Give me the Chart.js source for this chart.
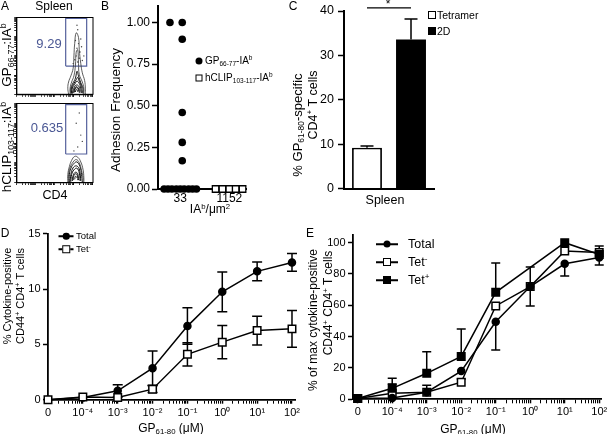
<!DOCTYPE html>
<html><head><meta charset="utf-8">
<script src="https://cdn.jsdelivr.net/npm/chart.js@4"></script>
<style>
html,body{margin:0;padding:0;background:#fff;}
#wrap{position:relative;width:608px;height:434px;overflow:hidden;font-family:"Liberation Sans",Arial,sans-serif;color:#000;}
canvas{position:absolute;left:0;top:0;}
.t{position:absolute;white-space:nowrap;line-height:1;transform:translate(-50%,-50%);}
.l{position:absolute;white-space:nowrap;line-height:1;transform:translate(0,-50%);}
.rot{transform:translate(-50%,-50%) rotate(-90deg);}
sub{font-size:65%;vertical-align:-0.3em;line-height:0;}
sup{font-size:65%;vertical-align:0.55em;line-height:0;}
.mk{position:absolute;transform:translate(-50%,-50%);box-sizing:border-box;}
</style></head>
<body><div id="wrap">
<canvas id="cA1" width="608" height="434"></canvas>
<canvas id="cA2" width="608" height="434"></canvas>
<canvas id="cB" width="608" height="434"></canvas>
<canvas id="cC" width="608" height="434"></canvas>
<canvas id="cD" width="608" height="434"></canvas>
<canvas id="cE" width="608" height="434"></canvas>

<div class="t" style="left:5px;top:6px;font-size:12px">A</div>
<div class="t" style="left:54px;top:6px;font-size:12px">Spleen</div>
<div class="t rot" style="left:7px;top:55px;font-size:13.5px">GP<sub>66-77</sub>:IA<sup>b</sup></div>
<div class="t rot" style="left:7px;top:147px;font-size:13.5px">hCLIP<sub>103-117</sub>:IA<sup>b</sup></div>
<div class="t" style="left:49px;top:43px;font-size:13px;color:#4a5794">9.29</div>
<div class="t" style="left:47px;top:127px;font-size:13px;color:#4a5794">0.635</div>
<div class="t" style="left:55px;top:195px;font-size:12.5px">CD4</div>

<div class="t" style="left:105px;top:6px;font-size:12px">B</div>
<div class="t rot" style="left:116px;top:110px;font-size:13.5px">Adhesion Frequency</div>
<div class="t" style="left:210px;top:209px;font-size:12px">IA<sup>b</sup>/μm<sup>2</sup></div>
<div class="mk" style="left:199px;top:61px;width:7px;height:7px;border-radius:50%;background:#000"></div>
<div class="l" style="left:205px;top:61px;font-size:10px">GP<sub>66-77</sub>-IA<sup>b</sup></div>
<div class="mk" style="left:199px;top:78px;width:7px;height:7px;border:1.3px solid #000;background:#fff"></div>
<div class="l" style="left:205px;top:78px;font-size:10px">hCLIP<sub>103-117</sub>-IA<sup>b</sup></div>

<div class="t" style="left:293px;top:6px;font-size:12px">C</div>
<div class="t rot" style="left:297px;top:125px;font-size:13px">% GP<sub>61-80</sub>-specific</div>
<div class="t rot" style="left:313px;top:105px;font-size:12.5px">CD4<sup>+</sup> T cells</div>
<div class="t" style="left:388px;top:4px;font-size:12px">*</div>
<div class="mk" style="left:432px;top:15px;width:8px;height:8px;border:1.3px solid #000;background:#fff"></div>
<div class="l" style="left:437px;top:15px;font-size:10.5px">Tetramer</div>
<div class="mk" style="left:432px;top:31px;width:8px;height:8px;background:#000"></div>
<div class="l" style="left:437px;top:31px;font-size:10.5px">2D</div>

<div class="t" style="left:5px;top:233px;font-size:12px">D</div>
<div class="t rot" style="left:7px;top:296px;font-size:11px">% Cytokine-positive</div>
<div class="t rot" style="left:20px;top:296px;font-size:11px">CD44<sup>+</sup> CD4<sup>+</sup> T cells</div>
<div class="t" style="left:171px;top:428px;font-size:12px">GP<sub>61-80</sub> (μM)</div>
<div class="mk" style="left:66px;top:236px;width:15px;height:1.5px;background:#000"></div>
<div class="mk" style="left:66px;top:236px;width:6.5px;height:6.5px;border-radius:50%;background:#000"></div>
<div class="l" style="left:76px;top:236px;font-size:9.5px">Total</div>
<div class="mk" style="left:66px;top:249px;width:15px;height:1.5px;background:#000"></div>
<div class="mk" style="left:66px;top:249px;width:7.5px;height:7.5px;border:1.3px solid #000;background:#fff"></div>
<div class="l" style="left:76px;top:249px;font-size:9.5px">Tet<sup>-</sup></div>

<div class="t" style="left:310px;top:233px;font-size:12px">E</div>
<div class="t rot" style="left:313px;top:320px;font-size:12px">% of max cytokine-positive</div>
<div class="t rot" style="left:328px;top:303px;font-size:12px">CD44<sup>+</sup> CD4<sup>+</sup> T cells</div>
<div class="t" style="left:473px;top:429px;font-size:12px">GP<sub>61-80</sub> (μM)</div>
<div class="mk" style="left:387px;top:244px;width:22px;height:1.5px;background:#000"></div>
<div class="mk" style="left:387px;top:244px;width:7px;height:7px;border-radius:50%;background:#000"></div>
<div class="l" style="left:408px;top:244px;font-size:12.5px">Total</div>
<div class="mk" style="left:387px;top:262px;width:22px;height:1.5px;background:#000"></div>
<div class="mk" style="left:387px;top:262px;width:8px;height:8px;border:1.3px solid #000;background:#fff"></div>
<div class="l" style="left:408px;top:262px;font-size:12.5px">Tet<sup>-</sup></div>
<div class="mk" style="left:387px;top:280px;width:22px;height:1.5px;background:#000"></div>
<div class="mk" style="left:387px;top:280px;width:8px;height:8px;background:#000"></div>
<div class="l" style="left:408px;top:280px;font-size:12.5px">Tet<sup>+</sup></div>
</div>
<script>
// ---------- DATA ----------
// Panel A (flow cytometry, axis units 0-100)
const gateX = [64.2, 91.7, 91.7, 64.2, 64.2];
const gateTopY = [36.8, 36.8, 98.7, 98.7, 36.8];
const gateBotY = [36.1, 36.1, 98.7, 98.7, 36.1];
const contoursTop = [
  [[68,0],[67,8],[68,16],[71,24],[74,34],[75,50],[76,66],[78,80],[81,74],[82,58],[84,40],[86,28],[89,18],[90,8],[90,0]],
  [[70,0],[70,8],[72,16],[75,24],[77,38],[78,55],[80,58],[81,40],[82,26],[86,16],[88,8],[88,0]],
  [[71,1],[71,8],[74,15],[77,21],[79,30],[81,24],[84,15],[87,8],[87,1]],
  [[72,1],[72,8],[75,14],[78,19],[80,22],[82,17],[85,10],[86,2]],
  [[73,1],[73,8],[76,13],[79,17],[82,14],[84,8],[85,2]],
  [[74,2],[75,8],[78,12],[81,11],[83,6],[83,2]],
  [[75,2],[76,7],[78,10],[80,9],[82,5],[82,2]],
  [[76,3],[77,8],[80,8],[81,4]],
  [[77,3],[78,6],[80,5],[80,3]]
];
const eventsTop = [[80,42],[78,50],[82,47],[79,60],[83,55],[77,70],[81,66],[84,72],[80,84],[85,62],[76,45],[88,50],[79,90],[74,40],[86,44]];
const contoursBot = [
  [[67,0],[67,10],[69,20],[72,28],[76,33],[80,32],[84,26],[87,16],[88,6],[88,0]],
  [[68,0],[68,10],[70,19],[74,26],[78,29],[82,25],[85,15],[87,6],[87,0]],
  [[69,0],[69,10],[71,18],[75,24],[79,26],[83,20],[85,10],[86,0]],
  [[70,1],[71,10],[73,17],[77,21],[81,19],[83,12],[84,2]],
  [[71,1],[72,10],[75,16],[79,18],[82,12],[83,2]],
  [[73,2],[74,9],[77,13],[80,11],[81,3]],
  [[74,3],[75,9],[78,11],[80,7],[80,3]],
  [[76,4],[77,8],[79,6]]
];
const eventsBot = [[80,45],[84,60],[78,75],[86,52],[75,40],[82,88]];

// Panel B
const bTickVals = [0, 0.25, 0.5, 0.75, 1.0];
const bCatLabels = ['33', '1152'];
const bGpX = [0.79, 1.04, 1.04, 1.04, 1.04, 1.04, 0.67, 0.75, 0.83, 0.92, 1.0, 1.08, 1.17, 1.25, 1.33];
const bGpY = [1.00, 1.00, 0.90, 0.46, 0.28, 0.17, 0, 0, 0, 0, 0, 0, 0, 0, 0];
const bClipX = [1.72, 1.86, 2.0, 2.13, 2.27];
const bClipY = [0, 0, 0, 0, 0];

// Panel C
const cCats = ['Spleen'];
const cTetramer = [9.2];
const cTetramerErr = [0.4];
const c2D = [33.6];
const c2DErr = [4.6];
const cSigLevel = 40.7;

// Panels D & E
const doses = [0, 1e-4, 1e-3, 1e-2, 1e-1, 1, 10, 100];
const doseLabels = ['0', '10⁻⁴', '10⁻³', '10⁻²', '10⁻¹', '10⁰', '10¹', '10²'];
const zeroDose = 1e-5;
const dTotal = [0, 0.2, 0.8, 2.85, 6.65, 9.75, 11.6, 12.4];
const dTotalErr = [0, 0, 0.55, 1.55, 1.65, 1.8, 0.85, 0.8];
const dTetNeg = [0, 0.25, 0.2, 0.95, 4.1, 5.2, 6.25, 6.4];
const dTetNegErr = [0, 0, 0, 0.3, 1.05, 1.5, 1.3, 1.65];
const eTotal = [0.5, 0.8, 4.5, 18, 49.5, 72, 86.5, 90.5];
const eTotalErrDown = [0, 0, 0, 0, 18, 0, 7.8, 4.8];
const eTetNeg = [0.5, 3.8, 4.5, 10.9, 59.6, 72, 94.7, 93.8];
const eTetNegErrUp = [0, 6, 4.5, 2, 0, 12.5, 0, 4.1];
const eTetNegErrDown = [0, 0, 0, 0, 0, 12.5, 0, 0];
const eTetPos = [0.5, 7, 16.6, 27.4, 68.3, null, 100, 92.5];
const eTetPosErrUp = [0, 6.4, 13.8, 17.5, 18.7, 0, 0, 0];
const eYTicks = [0, 20, 40, 60, 80, 100];

// ---------- HELPERS ----------
Chart.defaults.font.family = "'Liberation Sans', Arial, sans-serif";
Chart.defaults.color = '#000';
const W = 608, H = 434;
function layoutFor(l, t, r, yw) { return {padding: {left: l - yw, top: t, right: W - r, bottom: 0}}; }
function yFit(w) { return s => { s.width = w; s.paddingTop = 0; s.paddingBottom = 0; s.paddingLeft = 0; s.paddingRight = 0; }; }
function xFit(b) { return s => { s.height = H - b; s.paddingLeft = 0; s.paddingRight = 0; s.paddingTop = 0; s.paddingBottom = 0; }; }
const noPlug = {legend: {display: false}, tooltip: {enabled: false}};

const errPlugin = {
  id: 'err',
  beforeDatasetsDraw(chart) { drawErr(chart, false); },
  afterDatasetsDraw(chart) { drawErr(chart, true); }
};
function drawErr(chart, after) {
  const ctx = chart.ctx;
  chart.data.datasets.forEach((ds, di) => {
    if (!ds.errUp && !ds.errDown) return;
    if (!!ds.errAfter !== after) return;
    const meta = chart.getDatasetMeta(di);
    const ys = chart.scales[meta.yAxisID];
    ctx.save();
    ctx.strokeStyle = '#000';
    ctx.lineWidth = ds.errLineWidth || 1.5;
    meta.data.forEach((el, i) => {
      const raw = ds.data[i];
      const v = (raw && typeof raw === 'object') ? raw.y : raw;
      if (v === null || v === undefined) return;
      const x = el.x, y0 = ys.getPixelForValue(v);
      const cw = ds.capW || 5;
      [[ds.errUp, 1], [ds.errDown, -1]].forEach(([arr, s]) => {
        if (!arr || !arr[i]) return;
        const y1 = ys.getPixelForValue(v + s * arr[i]);
        ctx.beginPath();
        ctx.moveTo(x, y0); ctx.lineTo(x, y1);
        ctx.moveTo(x - cw, y1); ctx.lineTo(x + cw, y1);
        ctx.stroke();
      });
    });
    ctx.restore();
  });
}
const framePlugin = {
  id: 'frame',
  afterDraw(chart, args, opts) {
    if (!opts || !opts.enabled) return;
    const a = chart.chartArea, ctx = chart.ctx;
    ctx.save(); ctx.strokeStyle = '#000'; ctx.lineWidth = 1;
    ctx.strokeRect(a.left, a.top, a.right - a.left, a.bottom - a.top);
    ctx.restore();
  }
};
const sigPlugin = {
  id: 'sig',
  afterDraw(chart, args, opts) {
    if (!opts || !opts.enabled) return;
    const m0 = chart.getDatasetMeta(0).data[0], m1 = chart.getDatasetMeta(1).data[0];
    const y = chart.scales.y.getPixelForValue(opts.level);
    const ctx = chart.ctx;
    ctx.save(); ctx.strokeStyle = '#000'; ctx.lineWidth = 1.2;
    ctx.beginPath(); ctx.moveTo(m0.x, y); ctx.lineTo(m1.x, y); ctx.stroke();
    ctx.restore();
  }
};
Chart.register(errPlugin, framePlugin, sigPlugin);

// ---------- PANEL A ----------
const aTicks = [];
for (let d = 0; d < 4; d++) for (let k = 1; k < 10; k++) aTicks.push(d * 25 + 25 * Math.log10(k));
aTicks.push(100);
function pts(arr) { return arr.map(p => ({x: p[0], y: p[1]})); }
function flowChart(id, gateY, contours, events, area) {
  const datasets = [];
  contours.forEach((c, i) => datasets.push({data: pts(c), showLine: true, borderColor: i < 2 ? '#333' : '#111', borderWidth: i < 2 ? 0.8 : 1, pointRadius: 0, tension: 0.45, clip: false}));
  datasets.push({data: pts(events), showLine: false, pointRadius: 0.7, backgroundColor: '#444', borderWidth: 0, clip: false});
  datasets.push({data: gateX.map((x, i) => ({x, y: gateY[i]})), showLine: true, borderColor: '#55619c', borderWidth: 1.2, pointRadius: 0, tension: 0, clip: false});
  const axis = (pos, fit) => ({
    type: 'linear', min: 0, max: 100, position: pos,
    afterBuildTicks: s => { s.ticks = aTicks.map(v => ({value: v})); },
    afterFit: fit,
    ticks: {display: false, autoSkip: false},
    grid: {drawOnChartArea: false, drawTicks: true, tickLength: 2.5, tickColor: '#000', tickWidth: 0.8},
    border: {display: true, color: '#000', width: 1.2}
  });
  return new Chart(document.getElementById(id), {
    type: 'scatter',
    data: {datasets},
    options: {
      responsive: false, animation: false, devicePixelRatio: 1,
      layout: layoutFor(area.l, area.t, area.r, 10),
      plugins: Object.assign({frame: {enabled: true}}, noPlug),
      scales: {x: axis('bottom', xFit(area.b)), y: axis('left', yFit(10))}
    }
  });
}
flowChart('cA1', gateTopY, contoursTop, eventsTop, {l: 16.7, t: 17.5, r: 93, b: 94.3});
flowChart('cA2', gateBotY, contoursBot, eventsBot, {l: 16.7, t: 103.5, r: 93, b: 182.5});

// ---------- PANEL B ----------
new Chart(document.getElementById('cB'), {
  type: 'scatter',
  data: {datasets: [
    {data: bGpX.map((x, i) => ({x, y: bGpY[i]})), pointStyle: 'circle', pointRadius: 3.8, backgroundColor: '#000', borderColor: '#000', borderWidth: 0, clip: false},
    {data: bClipX.map((x, i) => ({x, y: bClipY[i]})), pointStyle: 'rect', pointRadius: 4.6, backgroundColor: '#fff', borderColor: '#000', borderWidth: 1.3, clip: false}
  ]},
  options: {
    responsive: false, animation: false, devicePixelRatio: 1,
    layout: layoutFor(158, 0, 246, 50),
    plugins: noPlug,
    scales: {
      x: {type: 'linear', min: 0.546, max: 2.34, afterFit: xFit(189),
          afterBuildTicks: s => { s.ticks = [{value: 1}, {value: 2}]; },
          ticks: {font: {size: 12}, padding: 2, maxRotation: 0, callback: v => bCatLabels[Math.round(v) - 1]},
          grid: {drawOnChartArea: false, drawTicks: false},
          border: {display: true, color: '#000', width: 2}},
      y: {type: 'linear', min: 0, max: 1.1, afterFit: yFit(50),
          afterBuildTicks: s => { s.ticks = bTickVals.map(v => ({value: v})); },
          ticks: {font: {size: 12}, padding: 2, callback: v => v.toFixed(2)},
          grid: {drawOnChartArea: false, drawTicks: true, tickLength: 6, tickColor: '#000', tickWidth: 1.5},
          border: {display: true, color: '#000', width: 2}}
    }
  }
});

// ---------- PANEL C ----------
new Chart(document.getElementById('cC'), {
  type: 'bar',
  data: {labels: cCats, datasets: [
    {label: 'Tetramer', data: cTetramer, errUp: cTetramerErr, errAfter: true, capW: 6.5, backgroundColor: '#fff', borderColor: '#000', borderWidth: 1.8, barPercentage: 0.68, categoryPercentage: 0.978},
    {label: '2D', data: c2D, errUp: c2DErr, errAfter: true, capW: 6.5, backgroundColor: '#000', borderColor: '#000', borderWidth: 0, barPercentage: 0.68, categoryPercentage: 0.978}
  ]},
  options: {
    responsive: false, animation: false, devicePixelRatio: 1,
    layout: layoutFor(344, 11, 434, 40),
    plugins: Object.assign({sig: {enabled: true, level: cSigLevel}}, noPlug),
    scales: {
      x: {afterFit: xFit(188.5), ticks: {font: {size: 12.5}, padding: 5, labelOffset: -4},
          grid: {drawOnChartArea: false, drawTicks: false}, border: {display: true, color: '#000', width: 2}},
      y: {min: 0, max: 40, afterFit: yFit(40),
          ticks: {font: {size: 12.5}, padding: 4, stepSize: 10},
          grid: {drawOnChartArea: false, drawTicks: true, tickLength: 6, tickColor: '#000', tickWidth: 1.5},
          border: {display: true, color: '#000', width: 2}}
    }
  }
});

// ---------- PANELS D & E ----------
const logTicks = [];
for (let n = -5; n < 2; n++) for (let k = 1; k < 10; k++) logTicks.push(k * Math.pow(10, n));
logTicks.push(100);
const doseAxisVal = d => d === 0 ? zeroDose : d;
const majorVals = doses.map(doseAxisVal);
function majorIndex(v) { return majorVals.findIndex(m => Math.abs(Math.log10(m) - Math.log10(v)) < 1e-6); }
function xy(vals) { return doses.map((d, i) => ({x: doseAxisVal(d), y: vals[i]})); }
function logX(min, max, b) {
  return {type: 'logarithmic', min, max, afterFit: xFit(b),
    afterBuildTicks: s => { s.ticks = logTicks.filter(v => v >= min * 0.999 && v <= max).map(v => ({value: v})); },
    ticks: {font: {size: 11}, padding: 2.5, autoSkip: false, maxRotation: 0, callback: v => { const i = majorIndex(v); return i >= 0 ? doseLabels[i] : ''; }},
    grid: {drawOnChartArea: false, drawTicks: true, tickLength: 4, tickColor: '#000', tickWidth: c => majorIndex(c.tick.value) >= 0 ? 1.5 : 1},
    border: {display: true, color: '#000', width: 1.8}};
}
const lineDs = (vals, style, fill, extra) => Object.assign({
  data: xy(vals), showLine: true, spanGaps: true, borderColor: '#000', borderWidth: 1.5, tension: 0,
  pointStyle: style, pointBackgroundColor: fill, pointBorderColor: '#000', pointBorderWidth: 1.5,
  pointRadius: style === 'rect' ? 5.3 : 3.5, clip: false
}, extra);

new Chart(document.getElementById('cD'), {
  type: 'scatter',
  data: {datasets: [
    lineDs(dTetNeg, 'rect', '#fff', {errUp: dTetNegErr, errDown: dTetNegErr, capW: 5}),
    lineDs(dTotal, 'circle', '#000', {errUp: dTotalErr, errDown: dTotalErr, capW: 5})
  ]},
  options: {
    responsive: false, animation: false, devicePixelRatio: 1,
    layout: layoutFor(48, 233.7, 295, 40),
    plugins: noPlug,
    scales: {
      x: logX(zeroDose, 122, 399.7),
      y: {min: 0, max: 15, afterFit: yFit(40),
          ticks: {font: {size: 11}, padding: 2.5, stepSize: 5},
          grid: {drawOnChartArea: false, drawTicks: true, tickLength: 5, tickColor: '#000', tickWidth: 1.5},
          border: {display: true, color: '#000', width: 1.8}}
    }
  }
});

new Chart(document.getElementById('cE'), {
  type: 'scatter',
  data: {datasets: [
    lineDs(eTotal, 'circle', '#000', {errDown: eTotalErrDown, capW: 4.5}),
    lineDs(eTetPos, 'rect', '#000', {errUp: eTetPosErrUp, capW: 4.5}),
    lineDs(eTetNeg, 'rect', '#fff', {errUp: eTetNegErrUp, errDown: eTetNegErrDown, capW: 4.5})
  ]},
  options: {
    responsive: false, animation: false, devicePixelRatio: 1,
    layout: layoutFor(353, 235, 602, 40),
    plugins: noPlug,
    scales: {
      x: logX(7.3e-6, 114, 399.3),
      y: {min: 0, max: 104.9, afterFit: yFit(40),
          afterBuildTicks: s => { s.ticks = eYTicks.map(v => ({value: v})); },
          ticks: {font: {size: 11}, padding: 2.5},
          grid: {drawOnChartArea: false, drawTicks: true, tickLength: 5, tickColor: '#000', tickWidth: 1.5},
          border: {display: true, color: '#000', width: 1.8}}
    }
  }
});
</script>
</body></html>
